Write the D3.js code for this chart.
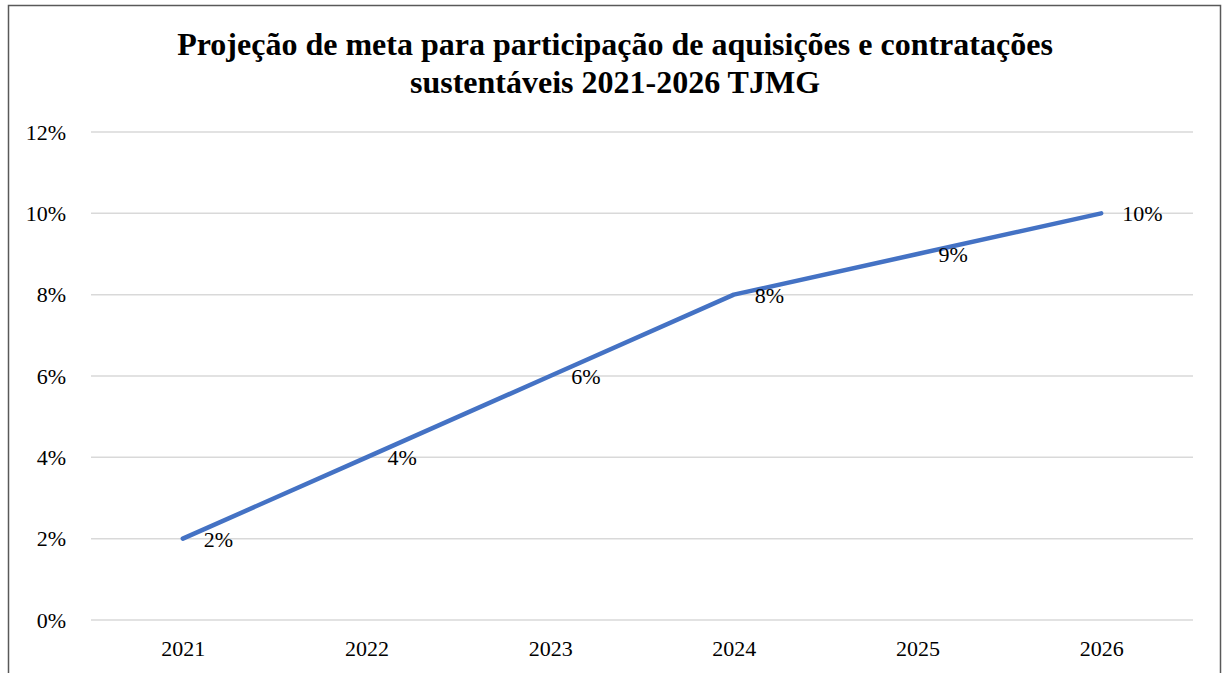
<!DOCTYPE html>
<html><head><meta charset="utf-8">
<script src="https://cdn.jsdelivr.net/npm/d3@7"></script>
<style>body{margin:0;background:#fff}svg{display:block}
svg text{font-family:"Liberation Serif","Times New Roman",serif !important;}
</style>
</head><body>
<script>
const categories = ["2021","2022","2023","2024","2025","2026"];
const values = [0.02,0.04,0.06,0.08,0.09,0.10];
const yTicks = [0,0.02,0.04,0.06,0.08,0.10,0.12];
const titleLines = ["Projeção de meta para participação de aquisições e contratações","sustentáveis 2021-2026 TJMG"];

const W=1223,H=673;
const svg=d3.select("body").append("svg").attr("width",W).attr("height",H);
svg.append("rect").attr("x",8.5).attr("y",5.5).attr("width",1212).attr("height",H+10)
  .attr("fill","#fff").attr("stroke","#595959").attr("stroke-width",1.5);

svg.append("g").selectAll("text").data(titleLines).join("text")
  .attr("x",615).attr("y",(d,i)=>55+i*38).attr("text-anchor","middle")
  .attr("font-weight","bold").attr("font-size",32).text(d=>d);

const plotL=91,plotR=1193;
const x=d3.scalePoint().domain(categories).range([plotL,plotR]).padding(0.5);
const y=d3.scaleLinear().domain([0,0.12]).range([620,132]);

const grid=svg.append("g");
grid.selectAll("line").data(yTicks).join("line")
  .attr("x1",plotL).attr("x2",plotR).attr("y1",d=>y(d)).attr("y2",d=>y(d))
  .attr("stroke","#d9d9d9").attr("stroke-width",1.5);

const yAxis=svg.append("g").attr("transform",`translate(${plotL},0)`)
  .call(d3.axisLeft(y).tickValues(yTicks).tickFormat(d3.format(".0%")).tickSize(0).tickPadding(25));
yAxis.select(".domain").remove();
yAxis.selectAll("text").attr("font-size",22).attr("fill","#000");

const xAxis=svg.append("g").attr("transform",`translate(0,${y(0)})`)
  .call(d3.axisBottom(x).tickSize(0).tickPadding(20));
xAxis.select(".domain").remove();
xAxis.selectAll("text").attr("font-size",22).attr("fill","#000");

const data=categories.map((c,i)=>({c,v:values[i]}));
svg.append("path").datum(data)
  .attr("d",d3.line().x(d=>x(d.c)).y(d=>y(d.v)))
  .attr("fill","none").attr("stroke","#4472C4").attr("stroke-width",4.5)
  .attr("stroke-linejoin","round").attr("stroke-linecap","round");

svg.append("g").selectAll("text").data(data).join("text")
  .attr("x",d=>x(d.c)+21).attr("y",d=>y(d.v)+8)
  .attr("font-size",22).attr("fill","#000")
  .text(d=>d3.format(".0%")(d.v));
</script>
</body></html>
